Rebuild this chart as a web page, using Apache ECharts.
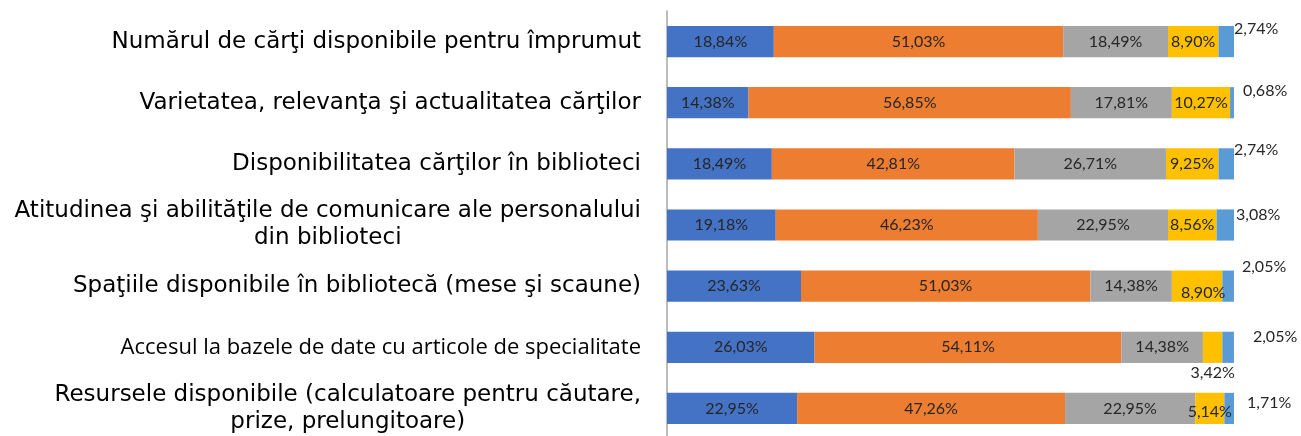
<!DOCTYPE html>
<html>
<head>
<meta charset="utf-8">
<script src="https://cdn.jsdelivr.net/npm/echarts@6/dist/echarts.min.js"></script>
<style>
  html, body { margin: 0; padding: 0; background: #fff; }
  #chart { width: 1301px; height: 436px; }
</style>
</head>
<body>
<div id="chart"></div>
<script>
// categorii (de sus in jos)
const categories = [
  'Numărul de cărţi disponibile pentru împrumut',
  'Varietatea, relevanţa şi actualitatea cărţilor',
  'Disponibilitatea cărţilor în biblioteci',
  'Atitudinea şi abilităţile de comunicare ale personalului\ndin biblioteci',
  'Spaţiile disponibile în bibliotecă (mese şi scaune)',
  'Accesul la bazele de date cu articole de specialitate',
  'Resursele disponibile (calculatoare pentru căutare,\nprize, prelungitoare)'
];

// valori in procente pentru fiecare serie
const serie1 = [18.84, 14.38, 18.49, 19.18, 23.63, 26.03, 22.95];
const serie2 = [51.03, 56.85, 42.81, 46.23, 51.03, 54.11, 47.26];
const serie3 = [18.49, 17.81, 26.71, 22.95, 14.38, 14.38, 22.95];
const serie4 = [8.90, 10.27, 9.25, 8.56, 8.90, 3.42, 5.14];
const serie5 = [2.74, 0.68, 2.74, 3.08, 2.05, 2.05, 1.71];

const colors = ['#4472C4', '#ED7D31', '#A5A5A5', '#FFC000', '#5B9BD5'];

// pozitii manuale ale etichetelor (ca in Excel)
const serie5Offsets = [[0, -13], [9, -12], [0, -14], [2, -10], [8, -19], [19, -10], [13, -6]];
const serie4Labels = {
  4: { offset: [6, 7] },
  5: { position: 'bottom', distance: 2 },
  6: { offset: [0, 3] }
};

const fmt = p => p.value.toFixed(2).replace('.', ',') + '%';

const labelBase = {
  show: true,
  position: 'inside',
  color: '#262626',
  fontFamily: 'Lato',
  fontSize: 16,
  formatter: fmt
};

function makeSeries(name, values, idx) {
  const data = values.map((v, i) => {
    if (idx === 3 && serie4Labels[i]) return { value: v, label: serie4Labels[i] };
    if (idx === 4) return { value: v, label: { position: 'right', distance: 0, offset: serie5Offsets[i] } };
    return v;
  });
  return {
    name: name,
    type: 'bar',
    stack: 'total',
    barCategoryGap: '49%',
    itemStyle: { color: colors[idx] },
    label: labelBase,
    data: data
  };
}

const myChart = echarts.init(document.getElementById('chart'));
myChart.setOption({
  animation: false,
  grid: { left: 667, right: 67, top: 11, height: 428, outerBoundsMode: 'none' },
  xAxis: { type: 'value', min: 0, max: 100, show: false },
  yAxis: {
    type: 'category',
    inverse: true,
    data: categories,
    axisTick: { show: false },
    axisLine: { lineStyle: { color: '#A6A6A6', width: 1.5 } },
    axisLabel: {
      margin: 26,
      formatter: (value, index) => (index === 5 ? '{b|' : '{a|') + value + '}',
      rich: {
        a: { fontFamily: 'DejaVu Sans', fontSize: 23, color: '#000', align: 'center', lineHeight: 27 },
        b: { fontFamily: 'Open Sans', fontSize: 22, color: '#000', align: 'center', lineHeight: 26 }
      }
    }
  },
  series: [
    makeSeries('Serie 1', serie1, 0),
    makeSeries('Serie 2', serie2, 1),
    makeSeries('Serie 3', serie3, 2),
    makeSeries('Serie 4', serie4, 3),
    makeSeries('Serie 5', serie5, 4)
  ]
});
</script>
</body>
</html>
